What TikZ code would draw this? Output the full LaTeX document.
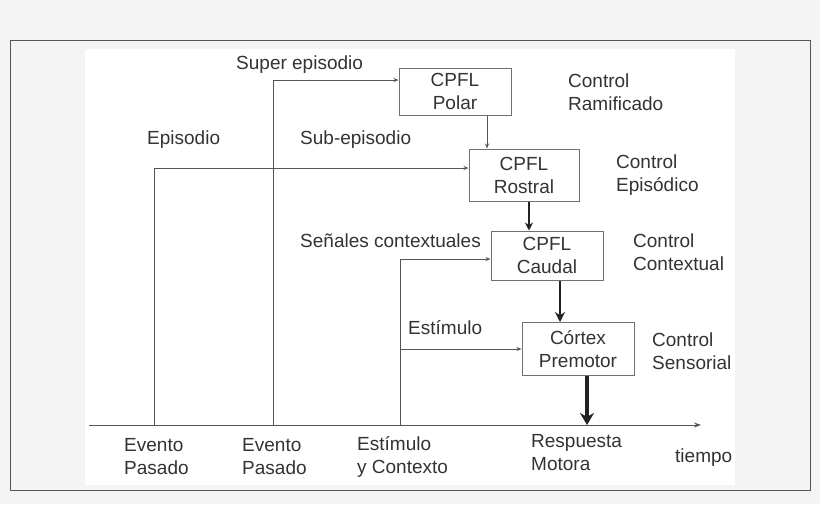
\documentclass[tikz,border=0pt]{standalone}
\usepackage{fontspec}
\setmainfont{Liberation Sans}
\usetikzlibrary{arrows.meta}
\definecolor{bg}{HTML}{F4F4F4}
\definecolor{txt}{HTML}{333333}
\definecolor{ln}{HTML}{555555}
\definecolor{dk}{HTML}{222222}
\definecolor{bx}{HTML}{707070}
\begin{document}
\begin{tikzpicture}[x=1pt,y=-1pt,
  font=\fontsize{19}{23}\selectfont,
  every node/.style={text=txt},
  box/.style={draw=bx,line width=1pt,fill=white,align=center,inner sep=0pt},
  lbl/.style={anchor=west,inner sep=0pt,align=left},
  conn/.style={draw=ln,line width=1pt},
  thin/.style={conn,-{Stealth[length=5pt,width=4pt]}},
  heavy/.style={draw=dk},
]
\useasboundingbox (0,0) rectangle (820,504);
\fill[bg] (0,0) rectangle (820,504);
\draw[draw=ln,line width=1pt] (10,40) rectangle (810,490);
\fill[white] (85,49) rectangle (735,485);

% boxes
\node[box,minimum width=112pt,minimum height=47pt] (polar) at (455,91.5) {CPFL\\Polar};
\node[box,minimum width=110pt,minimum height=52pt] (rostral) at (524,175) {CPFL\\Rostral};
\node[box,minimum width=112pt,minimum height=49pt] (caudal) at (547,255.5) {CPFL\\Caudal};
\node[box,minimum width=112pt,minimum height=53pt] (premotor) at (578,349) {Córtex\\Premotor};

% axis
\coordinate (a0) at (89,425);
\coordinate (a1) at (701,425);
\draw[conn,-{Stealth[length=7pt,width=5pt]}] (a0) -- (a1);

\coordinate (e1) at (154,425);
\coordinate (e2) at (273,425);
\coordinate (e3) at (400,425);
\coordinate (t1) at (273,80);
\coordinate (t0) at (154,168);
\coordinate (t3) at (400,259);
\coordinate (t4) at (400,349);

\draw[thin] (e1) -- (t0) -- (t0 -| rostral.west);
\draw[thin] (e2) -- (t1) -- (t1 -| polar.west);
\draw[thin] (e3) -- (t3) -- (t3 -| caudal.west);
\draw[thin] (t4) -- (t4 -| premotor.west);

% vertical flow arrows
\draw[thin] (polar.south -| 487,0) -- (rostral.north -| 487,0);
\draw[heavy,line width=1.7pt,-{Stealth[length=8pt,width=8pt]}] (rostral.south -| 529,0) -- (caudal.north -| 529,0);
\draw[heavy,line width=2.5pt,-{Stealth[length=10pt,width=10pt]}] (caudal.south -| 560,0) -- (premotor.north -| 560,0);
\coordinate (r0) at (587,425);
\draw[heavy,line width=4pt,-{Stealth[length=12pt,width=14pt]}] (premotor.south -| r0) -- (r0);

% labels
\node[lbl] (superep) at (236,65) {Super episodio};
\node[lbl] (episodio) at (147,140) {Episodio};
\node[lbl] (subep) at (300,140) {Sub-episodio};
\node[lbl] (senales) at (300,241) {Señales contextuales};
\node[lbl] (estim) at (408,328) {Estímulo};

\node[lbl] (cram) at (568,92) {Control\\Ramificado};
\node[lbl] (cepi) at (616,175) {Control\\Episódico};
\node[lbl] (ccon) at (633,252) {Control\\Contextual};
\node[lbl] (csen) at (652,351) {Control\\Sensorial};

\node[lbl] (ev1) at (124,457) {Evento\\Pasado};
\node[lbl] (ev2) at (242,457) {Evento\\Pasado};
\node[lbl] (ev3) at (357,457) {Estímulo\\y Contexto};
\node[lbl] (resp) at (531,453) {Respuesta\\Motora};
\node[lbl] (tiempo) at (675,458) {tiempo};
\end{tikzpicture}
\end{document}
